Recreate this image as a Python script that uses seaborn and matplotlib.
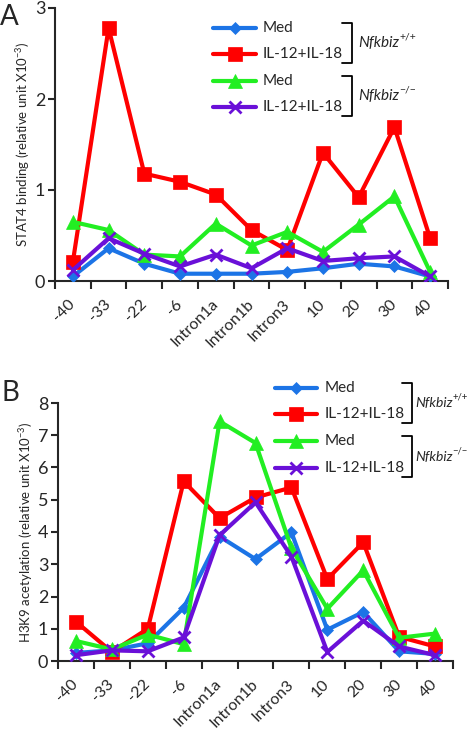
import numpy as np
import pandas as pd
import matplotlib
matplotlib.use("Agg")
import matplotlib.pyplot as plt
from matplotlib.lines import Line2D
from matplotlib.transforms import ScaledTranslation
import seaborn as sns

W, H = 472, 729

regions = ["-40", "-33", "-22", "-6", "Intron1a", "Intron1b", "Intron3",
           "10", "20", "30", "40"]
series = ["WT Med", "WT IL-12+IL-18", "KO Med", "KO IL-12+IL-18"]
legend_labels = ["Med", "IL-12+IL-18", "Med", "IL-12+IL-18"]
colors = ["#1C74E6", "#FF0000", "#22EE22", "#6A10D8"]
markers = ["D", "s", "^", "x"]
msizes = [6.5, 9.5, 10, 9]

# panel A: STAT4 binding
stat4_wt_med = [0.05, 0.36, 0.19, 0.08, 0.08, 0.08, 0.10, 0.14, 0.19, 0.16, 0.05]
stat4_wt_il = [0.21, 2.78, 1.18, 1.09, 0.95, 0.56, 0.34, 1.41, 0.92, 1.69, 0.47]
stat4_ko_med = [0.65, 0.56, 0.29, 0.27, 0.63, 0.39, 0.54, 0.32, 0.62, 0.93, 0.10]
stat4_ko_il = [0.12, 0.47, 0.30, 0.16, 0.29, 0.14, 0.36, 0.22, 0.25, 0.27, 0.05]

# panel B: H3K9 acetylation
h3k9_wt_med = [0.25, 0.33, 0.55, 1.65, 3.86, 3.16, 3.99, 0.97, 1.52, 0.30, 0.22]
h3k9_wt_il = [1.22, 0.28, 1.00, 5.57, 4.43, 5.07, 5.38, 2.54, 3.68, 0.75, 0.45]
h3k9_ko_med = [0.62, 0.36, 0.82, 0.52, 7.43, 6.76, 3.50, 1.62, 2.81, 0.72, 0.85]
h3k9_ko_il = [0.18, 0.33, 0.30, 0.73, 3.90, 4.92, 3.24, 0.28, 1.25, 0.45, 0.18]


def to_long(cols):
    rows = []
    for name, vals in zip(series, cols):
        for i, (r, v) in enumerate(zip(regions, vals)):
            rows.append({"pos": i, "region": r, "series": name, "value": v})
    return pd.DataFrame(rows)


sns.set_style("ticks")
plt.rcParams["font.family"] = ["Lato", "DejaVu Sans"]
plt.rcParams["mathtext.default"] = "regular"


def fx(x):
    return x / W


def fy(y):
    return 1 - y / H


def draw_panel(fig, ax, df, ymax, ylabel):
    for name, c, m, ms in zip(series, colors, markers, msizes):
        sub = df[df["series"] == name]
        sns.lineplot(data=sub, x="pos", y="value", color=c, marker=m,
                     markersize=ms, linewidth=3, markeredgecolor=c,
                     markeredgewidth=2 if m == "x" else 0.5, ax=ax,
                     legend=False, zorder=3)
    ax.set_xlim(-0.5, len(regions) - 0.5)
    ax.set_ylim(0, ymax)
    ax.set_yticks(range(0, ymax + 1))
    ax.set_xticks(np.arange(-0.5, len(regions), 1))
    ax.set_xticklabels([])
    ax.set_xticks(range(len(regions)), minor=True)
    ax.set_xticklabels(regions, minor=True, rotation=45, ha="right",
                       va="center", rotation_mode="anchor", fontsize=11.5)
    shift = ScaledTranslation(7 / 100, 0, fig.dpi_scale_trans)
    for lab in ax.get_xticklabels(minor=True):
        lab.set_transform(lab.get_transform() + shift)
    ax.tick_params(axis="x", which="minor", length=0, pad=15)
    ax.tick_params(axis="x", which="major", length=6, width=1.5, direction="out")
    ax.tick_params(axis="y", length=5, width=1.5, labelsize=13, pad=2)
    ax.set_xlabel("")
    ax.set_ylabel(ylabel, fontsize=9.5, labelpad=2)
    for s in ["left", "bottom"]:
        ax.spines[s].set_linewidth(1.5)
    sns.despine(ax=ax)


def draw_legend(fig, x0, x1, tx, rows, bx, grp_text_x, gsize):
    for lab, c, m, ms, y in zip(legend_labels, colors, markers, msizes, rows):
        fig.add_artist(Line2D([fx(x0), fx((x0 + x1) / 2), fx(x1)], [fy(y)] * 3,
                              transform=fig.transFigure, color=c, linewidth=3,
                              marker=m, markersize=ms, markevery=[1],
                              markeredgecolor=c,
                              markeredgewidth=2 if m == "x" else 0.5))
        fig.text(fx(tx), fy(y), lab, fontsize=11, va="center", ha="left")
    for k, sup in enumerate(["+/+", "\u2212/\u2212"]):
        ya, yb = rows[2 * k] - 5, rows[2 * k + 1] + 9
        fig.add_artist(Line2D([fx(bx - 10), fx(bx), fx(bx), fx(bx - 10)],
                              [fy(ya), fy(ya), fy(yb), fy(yb)],
                              transform=fig.transFigure, color="black",
                              linewidth=1.3))
        t = fig.text(fx(grp_text_x), fy((ya + yb) / 2), "Nfkbiz", fontsize=gsize,
                     style="italic", va="center", ha="left")
        plt.annotate(sup, xy=(1.0, 0.62), xycoords=t, fontsize=gsize * 0.68,
                     va="bottom", ha="left", annotation_clip=False)


fig = plt.figure(figsize=(W / 100, H / 100), dpi=100)

axA = fig.add_axes([fx(55), fy(281), fx(448) - fx(55), fy(8) - fy(281)])
draw_panel(fig, axA,
           to_long([stat4_wt_med, stat4_wt_il, stat4_ko_med, stat4_ko_il]),
           3, "STAT4 binding (relative unit X10$^{-3}$)")

axB = fig.add_axes([fx(58), fy(661), fx(453) - fx(58), fy(403) - fy(661)])
draw_panel(fig, axB,
           to_long([h3k9_wt_med, h3k9_wt_il, h3k9_ko_med, h3k9_ko_il]),
           8, "H3K9 acetylation (relative unit X10$^{-3}$)")

draw_legend(fig, 213, 256, 263, [28, 54, 81, 107], 352, 358, 11)
draw_legend(fig, 275, 317, 325, [388, 414, 441, 468], 412, 415, 10)

fig.text(fx(0), fy(17), "A", fontsize=20, va="center", ha="left")
fig.text(fx(2), fy(393), "B", fontsize=20, va="center", ha="left")

fig.savefig("out.png", dpi=100)
